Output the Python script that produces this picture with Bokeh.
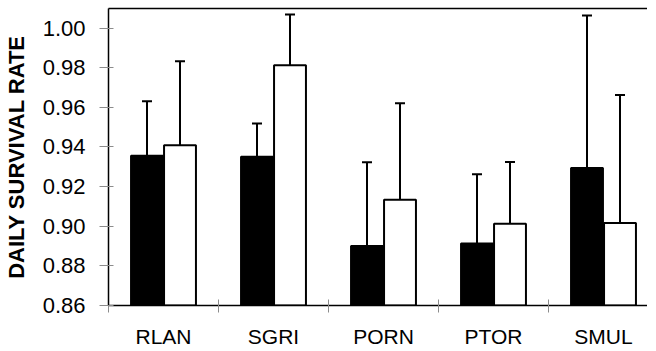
from bokeh.plotting import figure
from bokeh.models import (Range1d, FixedTicker, LinearAxis, Whisker, TeeHead,
                          ColumnDataSource, CustomJSTickFormatter)
from bokeh.embed import file_html
from bokeh.resources import INLINE

categories = ["RLAN", "SGRI", "PORN", "PTOR", "SMUL"]
black_vals = [0.9356, 0.9351, 0.8900, 0.8913, 0.9294]
black_err = [0.9631, 0.9518, 0.9323, 0.9262, 1.0064]
white_vals = [0.9409, 0.9813, 0.9134, 0.9013, 0.9016]
white_err = [0.9833, 1.0069, 0.9621, 0.9324, 0.9663]
y_ticks = [0.86, 0.88, 0.90, 0.92, 0.94, 0.96, 0.98, 1.00]

FONT = "Liberation Sans"
n = len(categories)
idx = list(range(n))

p = figure(output_backend="svg", toolbar_location=None,
           x_range=Range1d(0, 4.9), y_range=Range1d(0.86, 1.0099))
p.frame_width = 539
p.frame_height = 297
p.min_border_left = 102
p.min_border_top = 8
p.min_border_right = 0
p.min_border_bottom = 34
p.outline_line_color = None
p.background_fill_color = "white"
p.xgrid.visible = False
p.ygrid.visible = False

bsrc = ColumnDataSource(dict(x=[i + 0.35 for i in idx], top=black_vals, err=black_err))
wsrc = ColumnDataSource(dict(x=[i + 0.65 for i in idx], top=white_vals, err=white_err))

for src, fill in ((bsrc, "black"), (wsrc, "white")):
    p.vbar(x="x", top="top", bottom=0.86, width=0.29, source=src,
           fill_color=fill, line_color="black", line_width=2)
    w = Whisker(base="x", lower="top", upper="err", source=src,
                line_color="black", line_width=2,
                upper_head=TeeHead(size=10, line_color="black", line_width=2),
                lower_head=None, dimension="height")
    p.add_layout(w)

# x axis: labels at category centres, small ticks at category boundaries
xa = p.xaxis[0]
xa.ticker = FixedTicker(ticks=[i + 0.5 for i in idx], minor_ticks=[float(i) for i in range(n + 1)])
xa.major_label_overrides = {i + 0.5: c for i, c in zip(idx, categories)}
xa.major_tick_in = 0
xa.major_tick_out = 0
xa.minor_tick_in = 6
xa.minor_tick_out = 7
xa.minor_tick_line_color = "#8c8c8c"
xa.axis_line_color = "black"
xa.axis_line_width = 1.5
xa.major_label_text_font = FONT
xa.major_label_text_font_size = "21px"
xa.major_label_text_color = "black"
xa.major_label_standoff = 12

ya = p.yaxis[0]
ya.ticker = FixedTicker(ticks=y_ticks, minor_ticks=[])
ya.formatter = CustomJSTickFormatter(code="return tick.toFixed(2);")
ya.major_tick_in = 5
ya.major_tick_out = 9
ya.major_tick_line_color = "#8c8c8c"
ya.minor_tick_line_color = None
ya.axis_line_color = "black"
ya.axis_line_width = 1.5
ya.major_label_text_font = FONT
ya.major_label_text_font_size = "22px"
ya.major_label_text_color = "black"
ya.major_label_standoff = 14
ya.axis_label = "DAILY SURVIVAL RATE"
ya.axis_label_text_font = FONT
ya.axis_label_text_font_style = "bold"
ya.axis_label_text_font_size = "22px"
ya.axis_label_text_color = "black"
ya.axis_label_standoff = 11

top_axis = LinearAxis(ticker=FixedTicker(ticks=[]), major_label_text_font_size="0px",
                      major_tick_in=0, major_tick_out=0, minor_tick_in=0, minor_tick_out=0,
                      axis_line_color="black", axis_line_width=1.5, major_label_standoff=0)
p.add_layout(top_axis, "above")

open("out.html", "w").write(file_html(p, INLINE))
